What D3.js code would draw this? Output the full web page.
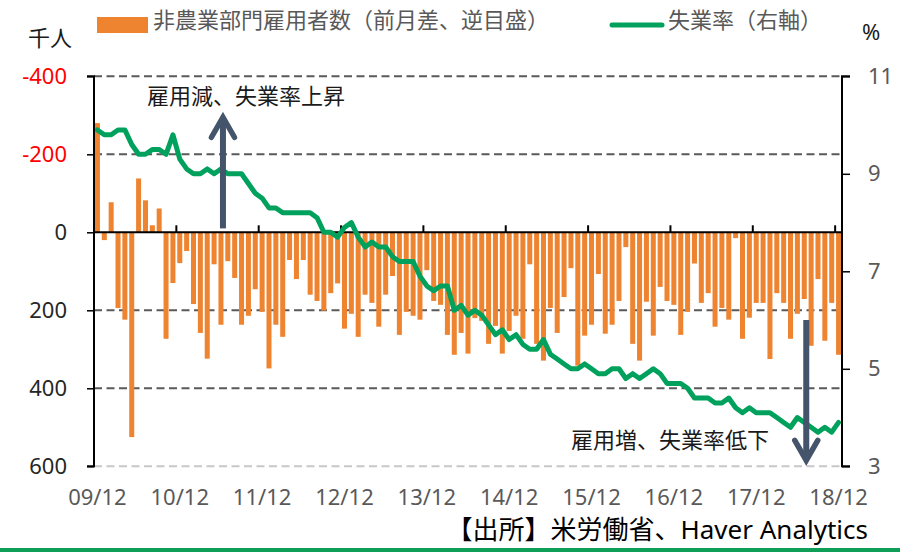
<!DOCTYPE html>
<html><head><meta charset="utf-8">
<script src="https://cdn.jsdelivr.net/npm/d3@7"></script>
<style>
body{margin:0;background:#fff;}
svg{display:block;}
text{font-family:"Noto Sans","Noto Sans CJK JP",sans-serif;}
</style></head><body>
<svg id="chart" width="900" height="552"></svg>
<script>
// ---- data ----
const categories = d3.range(109).map(i => {
  const t = 2009 * 12 + 11 + i; // 2009/12 start
  const y = Math.floor(t / 12), m = t % 12 + 1;
  return String(y).slice(2) + "/" + String(m).padStart(2, "0");
});
const tickLabels = ["09/12","10/12","11/12","12/12","13/12","14/12","15/12","16/12","17/12","18/12"];
const leftTicks = [-400, -200, 0, 200, 400, 600];
const rightTicks = [3, 5, 7, 9, 11];

// 非農業部門雇用者数 前月差（千人）
const payrolls = [
  -280,
  20, -77, 194, 224, 525, -138, -82, -18, -61, 273, 130, 79,
  48, 184, 258, 324, 82, 237, 74, 117, 237, 214, 146, 204,
  349, 237, 268, 71, 120, 71, 160, 176, 201, 156, 131, 247,
  209, 268, 160, 181, 242, 160, 112, 263, 204, 214, 224, 97,
  176, 186, 263, 314, 258, 311, 220, 227, 286, 240, 311, 253,
  214, 273, 82, 286, 329, 194, 258, 166, 92, 342, 265, 237,
  107, 260, 237, 176, 38, 286, 329, 178, 265, 140, 176, 186,
  263, 204, 80, 181, 156, 242, 194, 224, 15, 273, 219, 181,
  181, 325, 156, 181, 273, 209, 171, 291, 120, 278, 181, 314
];
// 失業率（%）
const unemployment = [
  9.9,
  9.8, 9.8, 9.9, 9.9, 9.6, 9.4, 9.4, 9.5, 9.5, 9.4, 9.8, 9.3,
  9.1, 9.0, 9.0, 9.1, 9.0, 9.1, 9.0, 9.0, 9.0, 8.8, 8.6, 8.5,
  8.3, 8.3, 8.2, 8.2, 8.2, 8.2, 8.2, 8.1, 7.8, 7.8, 7.7, 7.9,
  8.0, 7.7, 7.5, 7.6, 7.5, 7.5, 7.3, 7.2, 7.2, 7.2, 6.9, 6.7,
  6.6, 6.7, 6.7, 6.2, 6.3, 6.1, 6.2, 6.1, 5.9, 5.7, 5.8, 5.6,
  5.7, 5.5, 5.4, 5.4, 5.6, 5.3, 5.2, 5.1, 5.0, 5.0, 5.1, 5.0,
  4.9, 4.9, 5.0, 5.0, 4.8, 4.9, 4.8, 4.9, 5.0, 4.9, 4.7, 4.7,
  4.7, 4.6, 4.4, 4.4, 4.4, 4.3, 4.3, 4.4, 4.2, 4.1, 4.2, 4.1,
  4.1, 4.1, 4.0, 3.9, 3.8, 4.0, 3.9, 3.8, 3.7, 3.8, 3.7, 3.9
];

// ---- styles ----
const ORANGE = "#EE8330", GREEN = "#00A15C", SLATE = "#44546A";
const CJK = '"Noto Sans CJK JP","Noto Sans",sans-serif';
const NUM = '"Noto Sans","Noto Sans CJK JP",sans-serif';

const svg = d3.select("#chart");
const L = 94, R = 842, T = 76.3, B = 466.3;

const x = d3.scaleBand().domain(categories).range([L, R]).paddingInner(0.27).paddingOuter(0.135);
const step = x.step();
const cx = i => x(categories[0]) + x.bandwidth() / 2 + i * step;
const yL = d3.scaleLinear().domain([-400, 600]).range([T, B]);
const yR = d3.scaleLinear().domain([3, 11]).range([B, T]);
const fmt = d => String(d); // plain hyphen-minus like the original

// gridlines
svg.append("g").selectAll("line").data(leftTicks.filter(v => v !== 0)).join("line")
  .attr("x1", L).attr("x2", R).attr("y1", d => yL(d)).attr("y2", d => yL(d))
  .attr("stroke", d => d === 600 ? "#c8c8c8" : "#5a5a5a")
  .attr("stroke-width", 2).attr("stroke-dasharray", "8,4.5");

// bars
svg.append("g").selectAll("rect").data(payrolls).join("rect")
  .attr("x", (d, i) => x(categories[i]))
  .attr("width", x.bandwidth())
  .attr("y", d => Math.min(yL(0), yL(d)))
  .attr("height", d => Math.abs(yL(d) - yL(0)))
  .attr("fill", ORANGE);

// zero line + category ticks
svg.append("line").attr("x1", L).attr("x2", R).attr("y1", yL(0)).attr("y2", yL(0))
  .attr("stroke", "#000").attr("stroke-width", 2);
svg.append("g").selectAll("line").data(d3.range(12, 109, 12)).join("line")
  .attr("x1", i => x(categories[i]) - step * x.paddingInner() / 2)
  .attr("x2", i => x(categories[i]) - step * x.paddingInner() / 2)
  .attr("y1", yL(0)).attr("y2", yL(0) - 7)
  .attr("stroke", "#000").attr("stroke-width", 2);

// left axis
const gL = svg.append("g").attr("transform", `translate(${L},0)`)
  .call(d3.axisLeft(yL).tickValues(leftTicks).tickSize(7).tickPadding(20).tickFormat(fmt));
gL.select(".domain").attr("stroke", "#000").attr("stroke-width", 2).attr("d", `M-7,${T}H0V${B}H-7`);
gL.selectAll(".tick line").attr("stroke", "#000").attr("stroke-width", 1.5);
gL.selectAll(".tick text").attr("font-size", 22).attr("font-family", NUM)
  .attr("fill", d => d < 0 ? "#FF0000" : "#262626");

// right axis
const gR = svg.append("g").attr("transform", `translate(${R},0)`)
  .call(d3.axisRight(yR).tickValues(rightTicks).tickSize(8).tickPadding(18).tickFormat(fmt));
gR.select(".domain").attr("stroke", "#000").attr("stroke-width", 2).attr("d", `M8,${T}H0V${B}H8`);
gR.selectAll(".tick line").attr("stroke", "#000").attr("stroke-width", 1.5);
gR.selectAll(".tick text").attr("font-size", 22).attr("font-family", NUM).attr("fill", "#595959");

// x labels
svg.append("g").selectAll("text").data(tickLabels).join("text")
  .attr("x", (d, k) => cx(k * 12)).attr("y", 505)
  .attr("text-anchor", "middle").attr("font-size", 22).attr("font-family", NUM)
  .attr("fill", "#595959").text(d => d);

// unemployment line
svg.append("path").datum(unemployment)
  .attr("d", d3.line().x((d, i) => cx(i)).y(d => yR(d)))
  .attr("fill", "none").attr("stroke", GREEN).attr("stroke-width", 5)
  .attr("stroke-linejoin", "round").attr("stroke-linecap", "round");

// annotation arrows
const arrows = [
  { i: 18, from: -10, to: -295, label: "雇用減、失業率上昇", tx: 147, ty: 104 },
  { i: 103, from: 225, to: 585, label: "雇用増、失業率低下", tx: 571, ty: 448 }
];
arrows.forEach(a => {
  const xx = cx(a.i) + 2, y0 = yL(a.from), y1 = yL(a.to);
  const dir = y1 < y0 ? 1 : -1;
  svg.append("line").attr("x1", xx).attr("x2", xx).attr("y1", y0).attr("y2", y1 + dir * 2)
    .attr("stroke", SLATE).attr("stroke-width", 6);
  svg.append("path")
    .attr("d", `M${xx - 11.5},${y1 + dir * 20}L${xx},${y1}L${xx + 11.5},${y1 + dir * 20}`)
    .attr("fill", "none").attr("stroke", SLATE).attr("stroke-width", 5.5)
    .attr("stroke-linejoin", "miter").attr("stroke-linecap", "round");
  svg.append("text").attr("x", a.tx).attr("y", a.ty).attr("font-size", 22)
    .attr("font-family", CJK).attr("fill", "#1a1a1a").text(a.label);
});

// unit labels
svg.append("text").attr("x", 28).attr("y", 46).attr("font-size", 22).attr("font-family", CJK)
  .attr("fill", "#1a1a1a").text("千人");
svg.append("text").attr("x", 862).attr("y", 40).attr("font-size", 22).attr("font-family", NUM)
  .attr("fill", "#1a1a1a").text("%");

// legend
svg.append("rect").attr("x", 97).attr("y", 17).attr("width", 51).attr("height", 16).attr("fill", ORANGE);
svg.append("text").attr("x", 153).attr("y", 28).attr("font-size", 22).attr("font-family", CJK)
  .attr("fill", "#595959").text("非農業部門雇用者数（前月差、逆目盛）");
svg.append("line").attr("x1", 612).attr("x2", 662).attr("y1", 25).attr("y2", 25)
  .attr("stroke", GREEN).attr("stroke-width", 5).attr("stroke-linecap", "round");
svg.append("text").attr("x", 668).attr("y", 28).attr("font-size", 22).attr("font-family", CJK)
  .attr("fill", "#595959").text("失業率（右軸）");

// source
svg.append("text").attr("x", 868).attr("y", 539).attr("text-anchor", "end")
  .attr("font-size", 26).attr("font-family", NUM).attr("fill", "#000")
  .text("【出所】米労働省、Haver Analytics");

// bottom rule
svg.append("rect").attr("x", 0).attr("y", 548).attr("width", 900).attr("height", 4).attr("fill", "#0E9E58");
</script>
</body></html>
